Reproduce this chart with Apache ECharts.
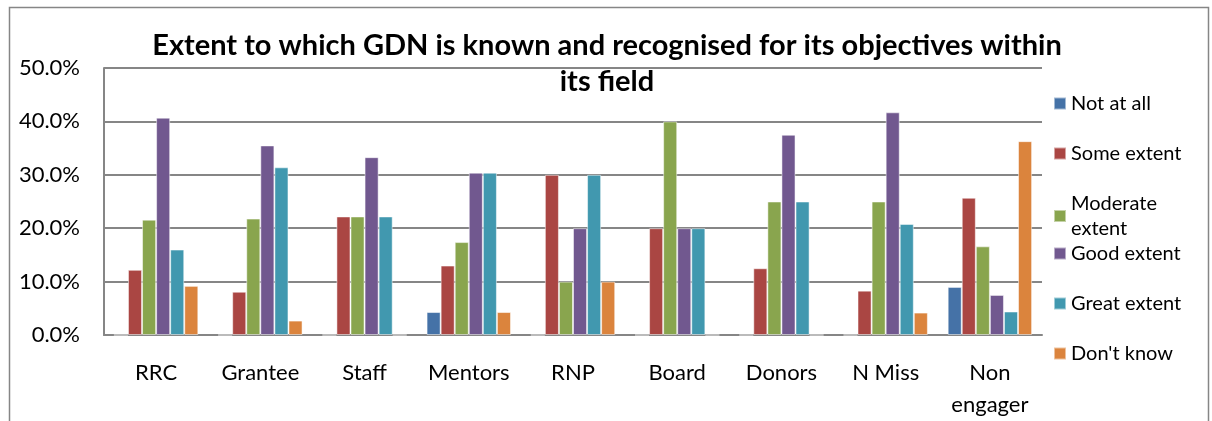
<!DOCTYPE html>
<html>
<head>
<meta charset="utf-8">
<script src="https://cdn.jsdelivr.net/npm/echarts@6/dist/echarts.min.js"></script>
<style>
  html, body { margin: 0; padding: 0; background: #fff; }
  #chart { width: 1212px; height: 421px; }
</style>
</head>
<body>
<div id="chart"></div>
<script>
const categories = ['RRC', 'Grantee', 'Staff', 'Mentors', 'RNP', 'Board', 'Donors', 'N Miss', 'Non\nengager'];
const seriesNames = ['Not at all', 'Some extent', 'Moderate extent', 'Good extent', 'Great extent', "Don't know"];

const notAtAll = [0, 0, 0, 4.3, 0, 0, 0, 0, 9.0];
const someExtent = [12.2, 8.1, 22.2, 13.0, 30.0, 20.0, 12.5, 8.3, 25.7];
const moderateExtent = [21.6, 21.8, 22.2, 17.4, 10.0, 40.0, 25.0, 25.0, 16.6];
const goodExtent = [40.7, 35.5, 33.3, 30.4, 20.0, 20.0, 37.5, 41.7, 7.5];
const greatExtent = [16.0, 31.4, 22.2, 30.4, 30.0, 20.0, 25.0, 20.8, 4.4];
const dontKnow = [9.2, 2.7, 0, 4.3, 10.0, 0, 0, 4.2, 36.3];

const seriesData = [notAtAll, someExtent, moderateExtent, goodExtent, greatExtent, dontKnow];
const colors = ['#4572A7', '#AA4643', '#89A54E', '#71588F', '#4198AF', '#DB843D'];

const font = 'Lato, "Open Sans", sans-serif';

const chart = echarts.init(document.getElementById('chart'));

// one legend per item so the spacing stays even when a label wraps
const legends = seriesNames.map((name, i) => ({
    data: [name],
    left: 1053,
    top: 91 + i * 50,
    padding: 0,
    itemWidth: 12,
    itemHeight: 12,
    itemGap: 0,
    icon: 'rect',
    selectedMode: false,
    formatter: n => n === 'Moderate extent' ? 'Moderate\nextent' : n,
    textStyle: {
        fontFamily: font,
        fontSize: 20,
        color: '#000',
        lineHeight: 25
    }
}));

const option = {
    backgroundColor: '#fff',
    color: colors,
    animation: false,
    title: {
        text: 'Extent to which GDN is known and recognised for its objectives within\nits field',
        left: 602,
        textAlign: 'center',
        top: 23,
        textStyle: {
            fontFamily: font,
            fontWeight: 'bold',
            fontSize: 29,
            lineHeight: 36,
            color: '#000'
        }
    },
    legend: legends,
    grid: {
        left: 104,
        right: 170,
        top: 68,
        bottom: 86
    },
    xAxis: {
        type: 'category',
        data: categories,
        axisLine: { lineStyle: { color: '#868686', width: 2 } },
        axisTick: { show: false },
        axisLabel: {
            fontFamily: font,
            fontSize: 22,
            color: '#000',
            margin: 22,
            lineHeight: 32,
            interval: 0
        }
    },
    yAxis: {
        type: 'value',
        min: 0,
        max: 50,
        interval: 10,
        axisLine: { show: true, lineStyle: { color: '#868686', width: 2 } },
        axisTick: { show: false },
        splitLine: { lineStyle: { color: '#868686', width: 2 } },
        axisLabel: {
            fontFamily: font,
            fontSize: 22,
            color: '#000',
            margin: 24,
            formatter: v => v.toFixed(1) + '%'
        }
    },
    series: seriesNames.map((name, i) => ({
        name: name,
        type: 'bar',
        data: seriesData[i],
        barGap: '0%',
        barCategoryGap: '19%',
        itemStyle: {
            color: colors[i],
            borderColor: 'rgba(255,255,255,0.5)',
            borderWidth: 1
        }
    })),
    graphic: [{
        type: 'rect',
        shape: { x: 9.5, y: 7.5, width: 1199, height: 440 },
        style: { fill: 'none', stroke: '#868686', lineWidth: 1.5 },
        silent: true
    }]
};

chart.setOption(option);
</script>
</body>
</html>
